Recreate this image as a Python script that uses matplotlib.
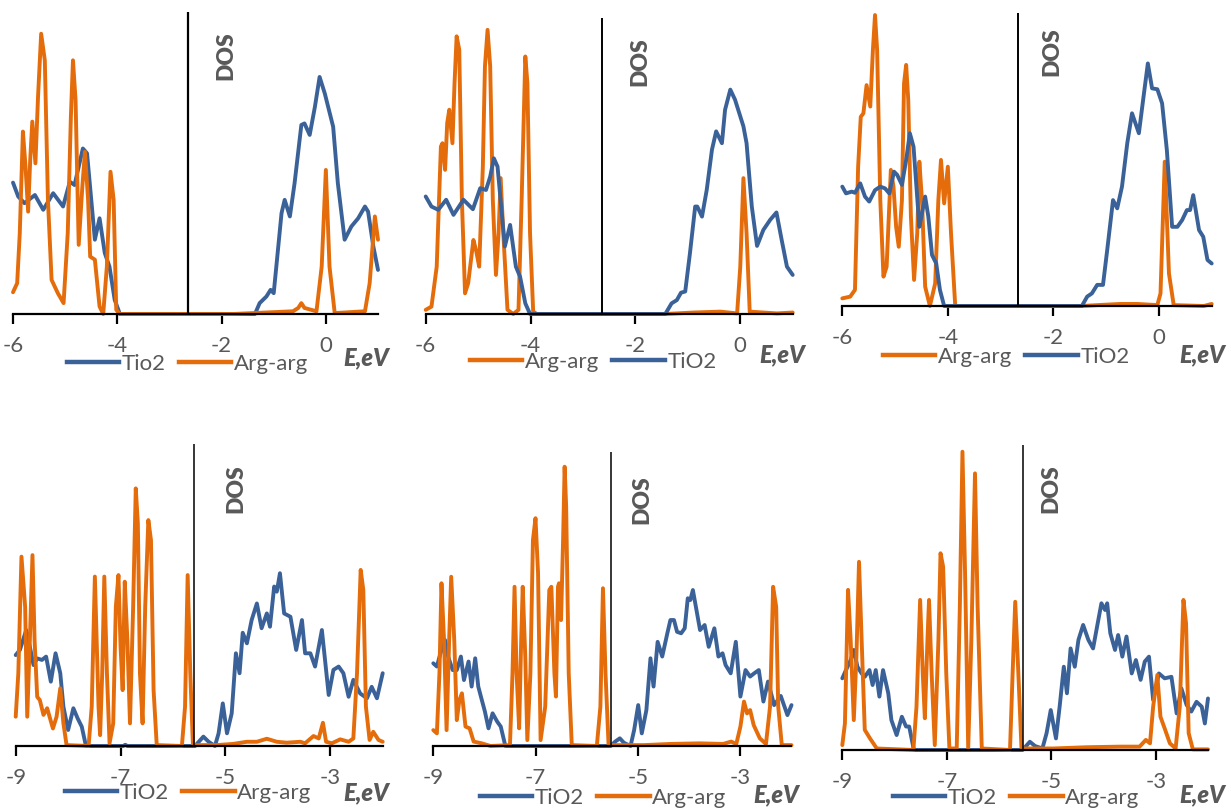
import matplotlib
matplotlib.use("Agg")
import matplotlib.pyplot as plt
from matplotlib.lines import Line2D

plt.rcParams['font.family'] = ['Lato', 'DejaVu Sans']

BLUE = '#3B6298'
ORANGE = '#E46C0A'
GREY = '#595959'

# ---------------- data (y in arbitrary DOS units 0-100) ----------------
# panel 1 (top left)
p1_tio2_x = [-6.0, -5.9, -5.78, -5.58, -5.42, -5.23, -5.04, -4.91, -4.82, -4.66, -4.58, -4.43, -4.34, -4.24,
             -4.15, -4.05, -3.95, -1.36, -1.27, -1.14, -1.06, -1.0, -0.95, -0.85, -0.79, -0.69, -0.6, -0.47,
             -0.41, -0.31, -0.21, -0.12, -0.02, 0.14, 0.23, 0.36, 0.49, 0.62, 0.75, 0.81, 0.91, 1.0]
p1_tio2_y = [43.5, 38.9, 36.7, 39.4, 34.5, 40, 35.6, 43.8, 42.7, 54.8, 53.2, 24.6, 31.7, 20.2,
             15.7, 4.7, 0, 0, 3.6, 5.8, 8, 6.9, 15.7, 33.4, 37.8, 32.3, 43.3, 62.6,
             63.1, 59.3, 68.6, 78.5, 73, 62, 43.3, 24.6, 29, 31.7, 35.6, 33.9, 22.4, 14.6]
p1_arg_x = [-6.0, -5.92, -5.87, -5.81, -5.76, -5.71, -5.67, -5.63, -5.57, -5.52, -5.46, -5.39, -5.33, -5.26,
            -5.14, -5.03, -4.95, -4.89, -4.85, -4.8, -4.74, -4.67, -4.62, -4.56, -4.52, -4.43, -4.34, -4.27,
            -4.2, -4.13, -4.07, -4.02, -3.95, -1.78, -0.63, -0.53, -0.47, -0.41, -0.18, -0.08, 0.0, 0.07,
            0.17, 0.75, 0.84, 0.94, 1.0]
p1_arg_y = [7.2, 10.2, 26.8, 60.4, 48.8, 33.9, 51, 63.7, 49.9, 71.9, 92.8, 84, 37.8, 11.3,
            6.9, 3.6, 26.8, 65.3, 84, 70.8, 22.9, 42.2, 53.7, 37.8, 19, 18, 2.5, 0,
            15.7, 47.1, 37.8, 1.4, 0, 0, 0.9, 2, 3.6, 2, 0.9, 15.7, 47.7, 15.7,
            0.3, 0.9, 10.2, 32.3, 24.6]

# panel 2 (top middle)
p2_tio2_x = [-6.0, -5.89, -5.76, -5.61, -5.47, -5.28, -5.1, -4.96, -4.85, -4.77, -4.7, -4.63, -4.49, -4.39,
             -4.28, -4.2, -4.1, -4.01, -1.43, -1.31, -1.21, -1.13, -1.05, -0.96, -0.86, -0.82, -0.73, -0.64,
             -0.54, -0.46, -0.35, -0.29, -0.19, -0.1, 0.06, 0.12, 0.22, 0.32, 0.44, 0.57, 0.69, 0.79, 0.89, 1.0]
p2_tio2_y = [39.7, 36.3, 35.2, 38.6, 33.5, 38.6, 35.4, 42.5, 41.9, 46.4, 52.6, 49.8, 22.8, 30.1,
             16, 12.6, 3.6, 0, 0, 3.6, 4.7, 7.2, 7.6, 20.5, 36.3, 36.3, 32.9, 41.9,
             55.5, 61.7, 57.7, 69, 75.8, 72.4, 63.4, 57.7, 36.3, 23, 28.4, 31.8, 34.3, 25, 16, 13.2]
p2_arg_x = [-6.0, -5.89, -5.79, -5.71, -5.68, -5.63, -5.59, -5.55, -5.49, -5.45, -5.41, -5.36, -5.31, -5.25,
            -5.19, -5.09, -5.04, -4.98, -4.91, -4.87, -4.82, -4.77, -4.72, -4.66, -4.61, -4.57, -4.52, -4.44,
            -4.33, -4.23, -4.17, -4.1, -4.06, -4.01, -3.95, -3.88, -1.43, -0.89, -0.38, -0.06, 0.0, 0.06,
            0.12, 0.18, 0.7, 1.0]
p2_arg_y = [1.4, 2.5, 16, 56.6, 57.7, 48.7, 64.5, 69, 57.7, 78, 93.8, 89.3, 38.6, 7,
            10.4, 25, 21.6, 16, 49.8, 83.7, 96, 83.7, 38.6, 13.2, 27.3, 45.9, 27.3, 1.4,
            0, 1.4, 38.6, 87, 78, 27.3, 0.8, 0, 0, 0.5, 0.8, 0.2, 16, 45.9,
            27.3, 0.8, 0.2, 0.5]

# panel 3 (top right)
p3_tio2_x = [-6.0, -5.93, -5.82, -5.76, -5.66, -5.57, -5.49, -5.38, -5.28, -5.19, -5.11, -5.02, -4.96, -4.87,
             -4.79, -4.72, -4.65, -4.54, -4.49, -4.43, -4.37, -4.3, -4.22, -4.15, -4.07, -1.46, -1.36, -1.27,
             -1.17, -1.06, -0.98, -0.87, -0.79, -0.7, -0.6, -0.51, -0.38, -0.3, -0.21, -0.13, -0.03, 0.06,
             0.15, 0.25, 0.35, 0.44, 0.53, 0.59, 0.65, 0.76, 0.84, 0.92, 1.0]
p3_tio2_y = [40.7, 38.4, 39, 38.6, 41.8, 37.3, 35.6, 39.5, 40.7, 40.1, 38.4, 45.8, 44.7, 41.3,
             49.8, 58.9, 54.3, 27, 31.6, 37.3, 30.5, 17.4, 14.5, 5.5, 0, 0, 3.2, 4.3,
             7.2, 7.2, 19.1, 36.1, 33.3, 40.7, 55.5, 65.7, 58.9, 70.2, 82.7, 74.2, 73.9, 69.1,
             53.2, 27, 27, 29.3, 32.7, 32.7, 37.8, 25.9, 23.6, 15.7, 14.5]
p3_arg_x = [-6.0, -5.85, -5.76, -5.7, -5.65, -5.6, -5.54, -5.47, -5.42, -5.38, -5.34, -5.28, -5.22, -5.16,
            -5.08, -5.03, -4.98, -4.93, -4.87, -4.83, -4.79, -4.75, -4.7, -4.64, -4.58, -4.54, -4.49, -4.43,
            -4.34, -4.24, -4.18, -4.13, -4.07, -4.0, -3.94, -3.86, -1.46, -1.17, -0.73, -0.41, -0.03, 0.03,
            0.11, 0.19, 0.28, 0.85, 1.0]
p3_arg_y = [2.6, 3.2, 5.5, 47.5, 64.5, 65.7, 75.3, 68, 87.3, 99.2, 87.3, 36.1, 10, 13.4,
            46.4, 40.7, 27, 20.2, 36.1, 75.9, 82.2, 70.2, 30.5, 8.9, 24.8, 49.2, 36.1, 6.6,
            0, 7.7, 36.1, 49.8, 35, 47.5, 24.8, 0, 0, 0.3, 0.7, 0.7, 0.3, 4.3,
            49.2, 11.1, 0.3, 0, 0.7]

# panel 4 (bottom left)
p4_tio2_x = [-9.0, -8.92, -8.8, -8.73, -8.66, -8.59, -8.5, -8.42, -8.33, -8.24, -8.15, -8.09, -8.0, -7.9,
             -7.82, -7.74, -7.66, -6.95, -6.91, -6.87, -5.58, -5.42, -5.32, -5.2, -5.13, -5.05, -4.97, -4.88,
             -4.8, -4.73, -4.67, -4.59, -4.5, -4.4, -4.31, -4.21, -4.15, -4.07, -4.02, -3.96, -3.88, -3.76,
             -3.65, -3.54, -3.48, -3.38, -3.29, -3.16, -3.03, -2.94, -2.84, -2.75, -2.65, -2.56, -2.43, -2.3,
             -2.21, -2.11, -2.0]
p4_tio2_y = [30.1, 31.8, 38.4, 32.9, 26.8, 29, 28.5, 29.6, 21.3, 30.7, 24.1, 13, 5.3, 12.5,
             9.2, 6.4, 0, 0, 0.4, 0, 0, 3.1, 1.4, 0, 4.2, 14.1, 4.2, 10.8,
             30.7, 24.1, 37.5, 34, 41.7, 47.2, 39, 43.9, 39.5, 52.8, 51.1, 57.2, 43.9, 42.8,
             31.8, 41.7, 30.7, 30.7, 26.3, 38.4, 16.9, 25.2, 26.3, 24.1, 16.3, 21.9, 17.4, 15.8,
             19.6, 15.8, 24.1]
p4_arg_x = [-9.0, -8.95, -8.89, -8.82, -8.78, -8.73, -8.68, -8.64, -8.59, -8.54, -8.47, -8.4, -8.29, -8.22,
            -8.15, -8.09, -8.03, -7.61, -7.55, -7.49, -7.42, -7.39, -7.35, -7.31, -7.26, -7.21, -7.14, -7.09,
            -7.04, -7.0, -6.96, -6.92, -6.87, -6.82, -6.76, -6.71, -6.67, -6.63, -6.58, -6.53, -6.47, -6.42,
            -6.37, -6.31, -5.83, -5.77, -5.72, -5.67, -5.62, -5.16, -4.85, -4.59, -4.4, -4.21, -4.02, -3.83,
            -3.57, -3.48, -3.32, -3.22, -3.14, -3.08, -2.97, -2.81, -2.65, -2.56, -2.49, -2.42, -2.37, -2.32,
            -2.25, -2.18, -2.08, -2.0]
p4_arg_y = [9.7, 24.1, 62.7, 46.1, 9.7, 35.1, 63.2, 35.1, 16.3, 15.2, 10.3, 12.5, 5.8, 9.7,
            19.1, 7.5, 0.3, 0, 13, 56.1, 13, 3.6, 24.1, 56.1, 24.1, 0.9, 7.5, 46.1,
            56.6, 32.9, 18.5, 54.4, 35.1, 7.5, 46.1, 85.3, 73.7, 24.1, 7.5, 46.1, 74.8, 68.2,
            18.5, 0.3, 0, 13, 56.6, 24.1, 0.3, 0.3, 0.7, 1.4, 1.4, 2.4, 1.4, 1.1,
            1.4, 0.9, 3.3, 2.5, 7.7, 1.4, 0.9, 2.2, 1.4, 2.5, 24.1, 58.3, 51.7, 13,
            2, 4.7, 2, 1.4]

# panel 5 (bottom middle)
p5_tio2_x = [-9.0, -8.93, -8.86, -8.77, -8.71, -8.62, -8.54, -8.46, -8.4, -8.31, -8.25, -8.18, -8.12, -8.05,
             -7.99, -7.92, -7.84, -7.75, -7.68, -7.59, -5.53, -5.44, -5.35, -5.27, -5.14, -5.07, -4.99, -4.92,
             -4.83, -4.75, -4.69, -4.61, -4.52, -4.42, -4.36, -4.29, -4.23, -4.15, -4.08, -4.02, -3.97, -3.92,
             -3.85, -3.78, -3.69, -3.61, -3.5, -3.42, -3.34, -3.28, -3.18, -3.08, -2.99, -2.89, -2.8, -2.72,
             -2.63, -2.54, -2.45, -2.33, -2.2, -2.07, -1.99]
p5_tio2_y = [28.1, 27, 31.5, 36, 30.4, 25.8, 25.8, 30.4, 22.4, 28.7, 20.2, 29.8, 20.2, 15.6,
             11.7, 6, 11.1, 8.3, 6.6, 0, 0, 1.5, 2.6, 1.1, 0, 5.4, 13.9, 4.3,
             12.2, 29.8, 20.2, 35.4, 30.4, 38.3, 42.8, 42.8, 38.8, 38.3, 40, 50.2, 49.6, 53,
             46.2, 39.4, 41.1, 33.7, 40, 30.4, 31.5, 27.5, 24.7, 35.4, 16.8, 25.8, 23.6, 24.7,
             25.8, 15.1, 21.9, 13.9, 17, 10.5, 13.9]
p5_arg_x = [-9.0, -8.93, -8.88, -8.84, -8.79, -8.74, -8.69, -8.65, -8.59, -8.54, -8.49, -8.44, -8.37, -8.29,
            -8.21, -8.05, -7.88, -7.5, -7.45, -7.41, -7.37, -7.32, -7.28, -7.25, -7.2, -7.16, -7.1, -7.05,
            -7.0, -6.95, -6.9, -6.81, -6.73, -6.69, -6.63, -6.6, -6.56, -6.54, -6.5, -6.46, -6.43, -6.4,
            -6.35, -6.29, -5.8, -5.73, -5.68, -5.63, -5.57, -4.88, -4.36, -3.79, -3.33, -3.17, -3.07, -2.99,
            -2.92, -2.86, -2.8, -2.73, -2.61, -2.49, -2.41, -2.35, -2.29, -2.25, -2.18, -1.99]
p5_arg_y = [5.4, 4.3, 24.7, 55.3, 36, 5.4, 36, 57.5, 36, 8.8, 15.6, 17.9, 6.6, 6,
            1.5, 0.9, 0, 0.3, 24.7, 54.1, 24.7, 6, 36, 54.1, 30.4, 2, 24.7, 70,
            77.4, 58.7, 2, 13.4, 53, 54.1, 24.7, 16.8, 54.1, 55.3, 42.8, 70, 94.9, 81.3,
            24.7, 0.3, 0, 13.4, 53.6, 24.7, 0.3, 0.3, 0.7, 0.9, 0.7, 1.5, 0.7, 6.6,
            15.1, 11.1, 12.2, 7.1, 2.6, 0.7, 13.4, 54.1, 47.3, 13.4, 0.3, 0.3]

# panel 6 (bottom right)
p6_tio2_x = [-9.0, -8.93, -8.84, -8.78, -8.71, -8.63, -8.57, -8.48, -8.42, -8.36, -8.29, -8.22, -8.12, -8.06,
             -7.96, -7.86, -7.78, -7.72, -7.63, -5.55, -5.41, -5.31, -5.17, -5.09, -5.01, -4.91, -4.84, -4.76,
             -4.7, -4.63, -4.55, -4.48, -4.39, -4.29, -4.2, -4.1, -4.04, -3.97, -3.93, -3.87, -3.78, -3.72,
             -3.64, -3.56, -3.46, -3.38, -3.29, -3.21, -3.13, -3.05, -2.94, -2.83, -2.7, -2.6, -2.51, -2.41,
             -2.32, -2.22, -2.12, -2.06, -2.0]
p6_tio2_y = [23.5, 26.2, 29.5, 32.8, 27.3, 25.1, 24, 26.2, 21.3, 26.2, 17.5, 26.2, 18.6, 9.8,
             4.9, 10.9, 7.7, 7.7, 0, 0, 2.7, 1.3, 0.5, 5.5, 13.1, 3.8, 14.2, 27.3,
             18.6, 33.3, 27.3, 36.1, 41, 36.1, 33.3, 42.6, 48.1, 45.9, 48.1, 38.3, 32.8, 37.7,
             30.6, 37.2, 25.1, 29.5, 23, 29, 30.6, 16.4, 25.1, 23.5, 24, 12, 20.2, 14.8,
             12.6, 15.8, 14.2, 8.7, 16.9]
p6_arg_x = [-9.0, -8.95, -8.89, -8.84, -8.78, -8.73, -8.68, -8.63, -8.57, -8.47, -8.34, -7.64, -7.58, -7.51,
            -7.46, -7.42, -7.37, -7.34, -7.29, -7.23, -7.16, -7.12, -7.07, -7.01, -6.95, -6.81, -6.75, -6.7,
            -6.65, -6.59, -6.53, -6.46, -6.41, -6.33, -5.79, -5.74, -5.69, -5.63, -5.57, -4.96, -4.33, -3.69,
            -3.31, -3.19, -3.11, -3.05, -2.97, -2.91, -2.83, -2.73, -2.62, -2.54, -2.47, -2.42, -2.37, -2.29,
            -2.0]
p6_arg_y = [1.6, 8.7, 52.5, 36.1, 9.8, 30.6, 61.7, 36.1, 6.6, 3.8, 0.5, 0, 14.2, 49.2,
            25.1, 10.4, 36.1, 49.2, 25.1, 1.6, 36.1, 64.5, 60.1, 25.1, 0.5, 0.5, 47, 97.8,
            57.9, 0.5, 36.1, 90.7, 47, 0.5, 0, 25.1, 48.6, 25.1, 0.5, 0.5, 0.9, 1.1,
            1.1, 3.3, 2.2, 14.2, 24.6, 10.9, 7.1, 2.2, 0.5, 14.2, 49.2, 41.5, 5.5, 0.2,
            0.2]

top_ticks = [-6, -4, -2, 0]
bottom_ticks = [-9, -7, -5, -3]

# position of the DOS marker line in each panel (eV)
dos_pos = [-2.65, -2.64, -2.68, -5.59, -5.52, -5.55]

# ---------------- figure ----------------
W, H = 1231, 808
fig = plt.figure(figsize=(W / 100, H / 100), dpi=100)


def fx(px):
    return px / W


def fy(py):
    return 1 - py / H


FS = 16

# (left, right, top, bottom) in pixels, xlim, ticks, series order, legend anchor, E,eV pos, DOS pos, dos lw
panels = [
    dict(box=(13, 378, 12, 314), xlim=(-6, 1.0), ticks=top_ticks,
         series=[('Tio2', BLUE, p1_tio2_x, p1_tio2_y), ('Arg-arg', ORANGE, p1_arg_x, p1_arg_y)],
         leg=(67, 364), ev=(366, 358), dos=(226, 56), dlw=1.6),
    dict(box=(425.7, 792.7, 18, 314), xlim=(-6, 1.0), ticks=top_ticks,
         series=[('Arg-arg', ORANGE, p2_arg_x, p2_arg_y), ('TiO2', BLUE, p2_tio2_x, p2_tio2_y)],
         leg=(470, 362), ev=(782, 355), dos=(640, 62), dlw=1.4),
    dict(box=(842.3, 1211.7, 12.7, 306), xlim=(-6, 1.0), ticks=top_ticks,
         series=[('Arg-arg', ORANGE, p3_arg_x, p3_arg_y), ('TiO2', BLUE, p3_tio2_x, p3_tio2_y)],
         leg=(883, 357), ev=(1202, 355), dos=(1052, 52), dlw=1.4),
    dict(box=(15.7, 382.7, 444, 746), xlim=(-9, -2.0), ticks=bottom_ticks,
         series=[('TiO2', BLUE, p4_tio2_x, p4_tio2_y), ('Arg-arg', ORANGE, p4_arg_x, p4_arg_y)],
         leg=(65, 793), ev=(366, 793), dos=(236, 489), dlw=1.1),
    dict(box=(433.3, 791, 451.7, 746), xlim=(-9, -2.0), ticks=bottom_ticks,
         series=[('TiO2', BLUE, p5_tio2_x, p5_tio2_y), ('Arg-arg', ORANGE, p5_arg_x, p5_arg_y)],
         leg=(480, 798), ev=(776, 795), dos=(642, 500), dlw=1.1),
    dict(box=(842.3, 1208, 445, 750), xlim=(-9, -2.0), ticks=bottom_ticks,
         series=[('TiO2', BLUE, p6_tio2_x, p6_tio2_y), ('Arg-arg', ORANGE, p6_arg_x, p6_arg_y)],
         leg=(893, 798), ev=(1202, 795), dos=(1051, 489), dlw=1.1),
]

for i, p in enumerate(panels):
    l, r, t, b = p['box']
    ax = fig.add_axes([fx(l), fy(b), (r - l) / W, (b - t) / H])
    handles = []
    for label, color, xs, ys in p['series']:
        ax.plot(xs, ys, color=color, lw=2.8, solid_joinstyle='round', solid_capstyle='round',
                clip_on=False)
        handles.append(Line2D([], [], color=color, lw=3.2, label=label))
    ax.axvline(dos_pos[i], color='black', lw=p['dlw'])
    ax.set_xlim(*p['xlim'])
    ax.set_ylim(0, 100)
    ax.set_xticks(p['ticks'])
    ax.set_xticklabels([str(v) for v in p['ticks']])
    ax.set_yticks([])
    for s in ['left', 'right', 'top']:
        ax.spines[s].set_visible(False)
    ax.spines['bottom'].set_linewidth(1.6)
    ax.spines['bottom'].set_color('black')
    ax.tick_params(axis='x', direction='out', length=7, width=1.6, color='black',
                   labelcolor=GREY, labelsize=FS, pad=9)
    ax.patch.set_alpha(0)

    lx, ly = p['leg']
    fig.legend(handles=handles, loc='center left', bbox_to_anchor=(fx(lx), fy(ly)),
               ncol=2, frameon=False, fontsize=FS, labelcolor=GREY,
               handlelength=2.35, handletextpad=0.12, columnspacing=0.6,
               borderpad=0, borderaxespad=0)

    ex, ey = p['ev']
    fig.text(fx(ex), fy(ey), 'E,eV', ha='center', va='center', fontsize=17,
             fontweight='heavy', fontstyle='italic', color=GREY)
    dx, dy = p['dos']
    fig.text(fx(dx), fy(dy), 'DOS', ha='center', va='center', rotation=90,
             fontsize=16.5, fontweight='heavy', color=GREY)

fig.savefig('out.png', dpi=100)
